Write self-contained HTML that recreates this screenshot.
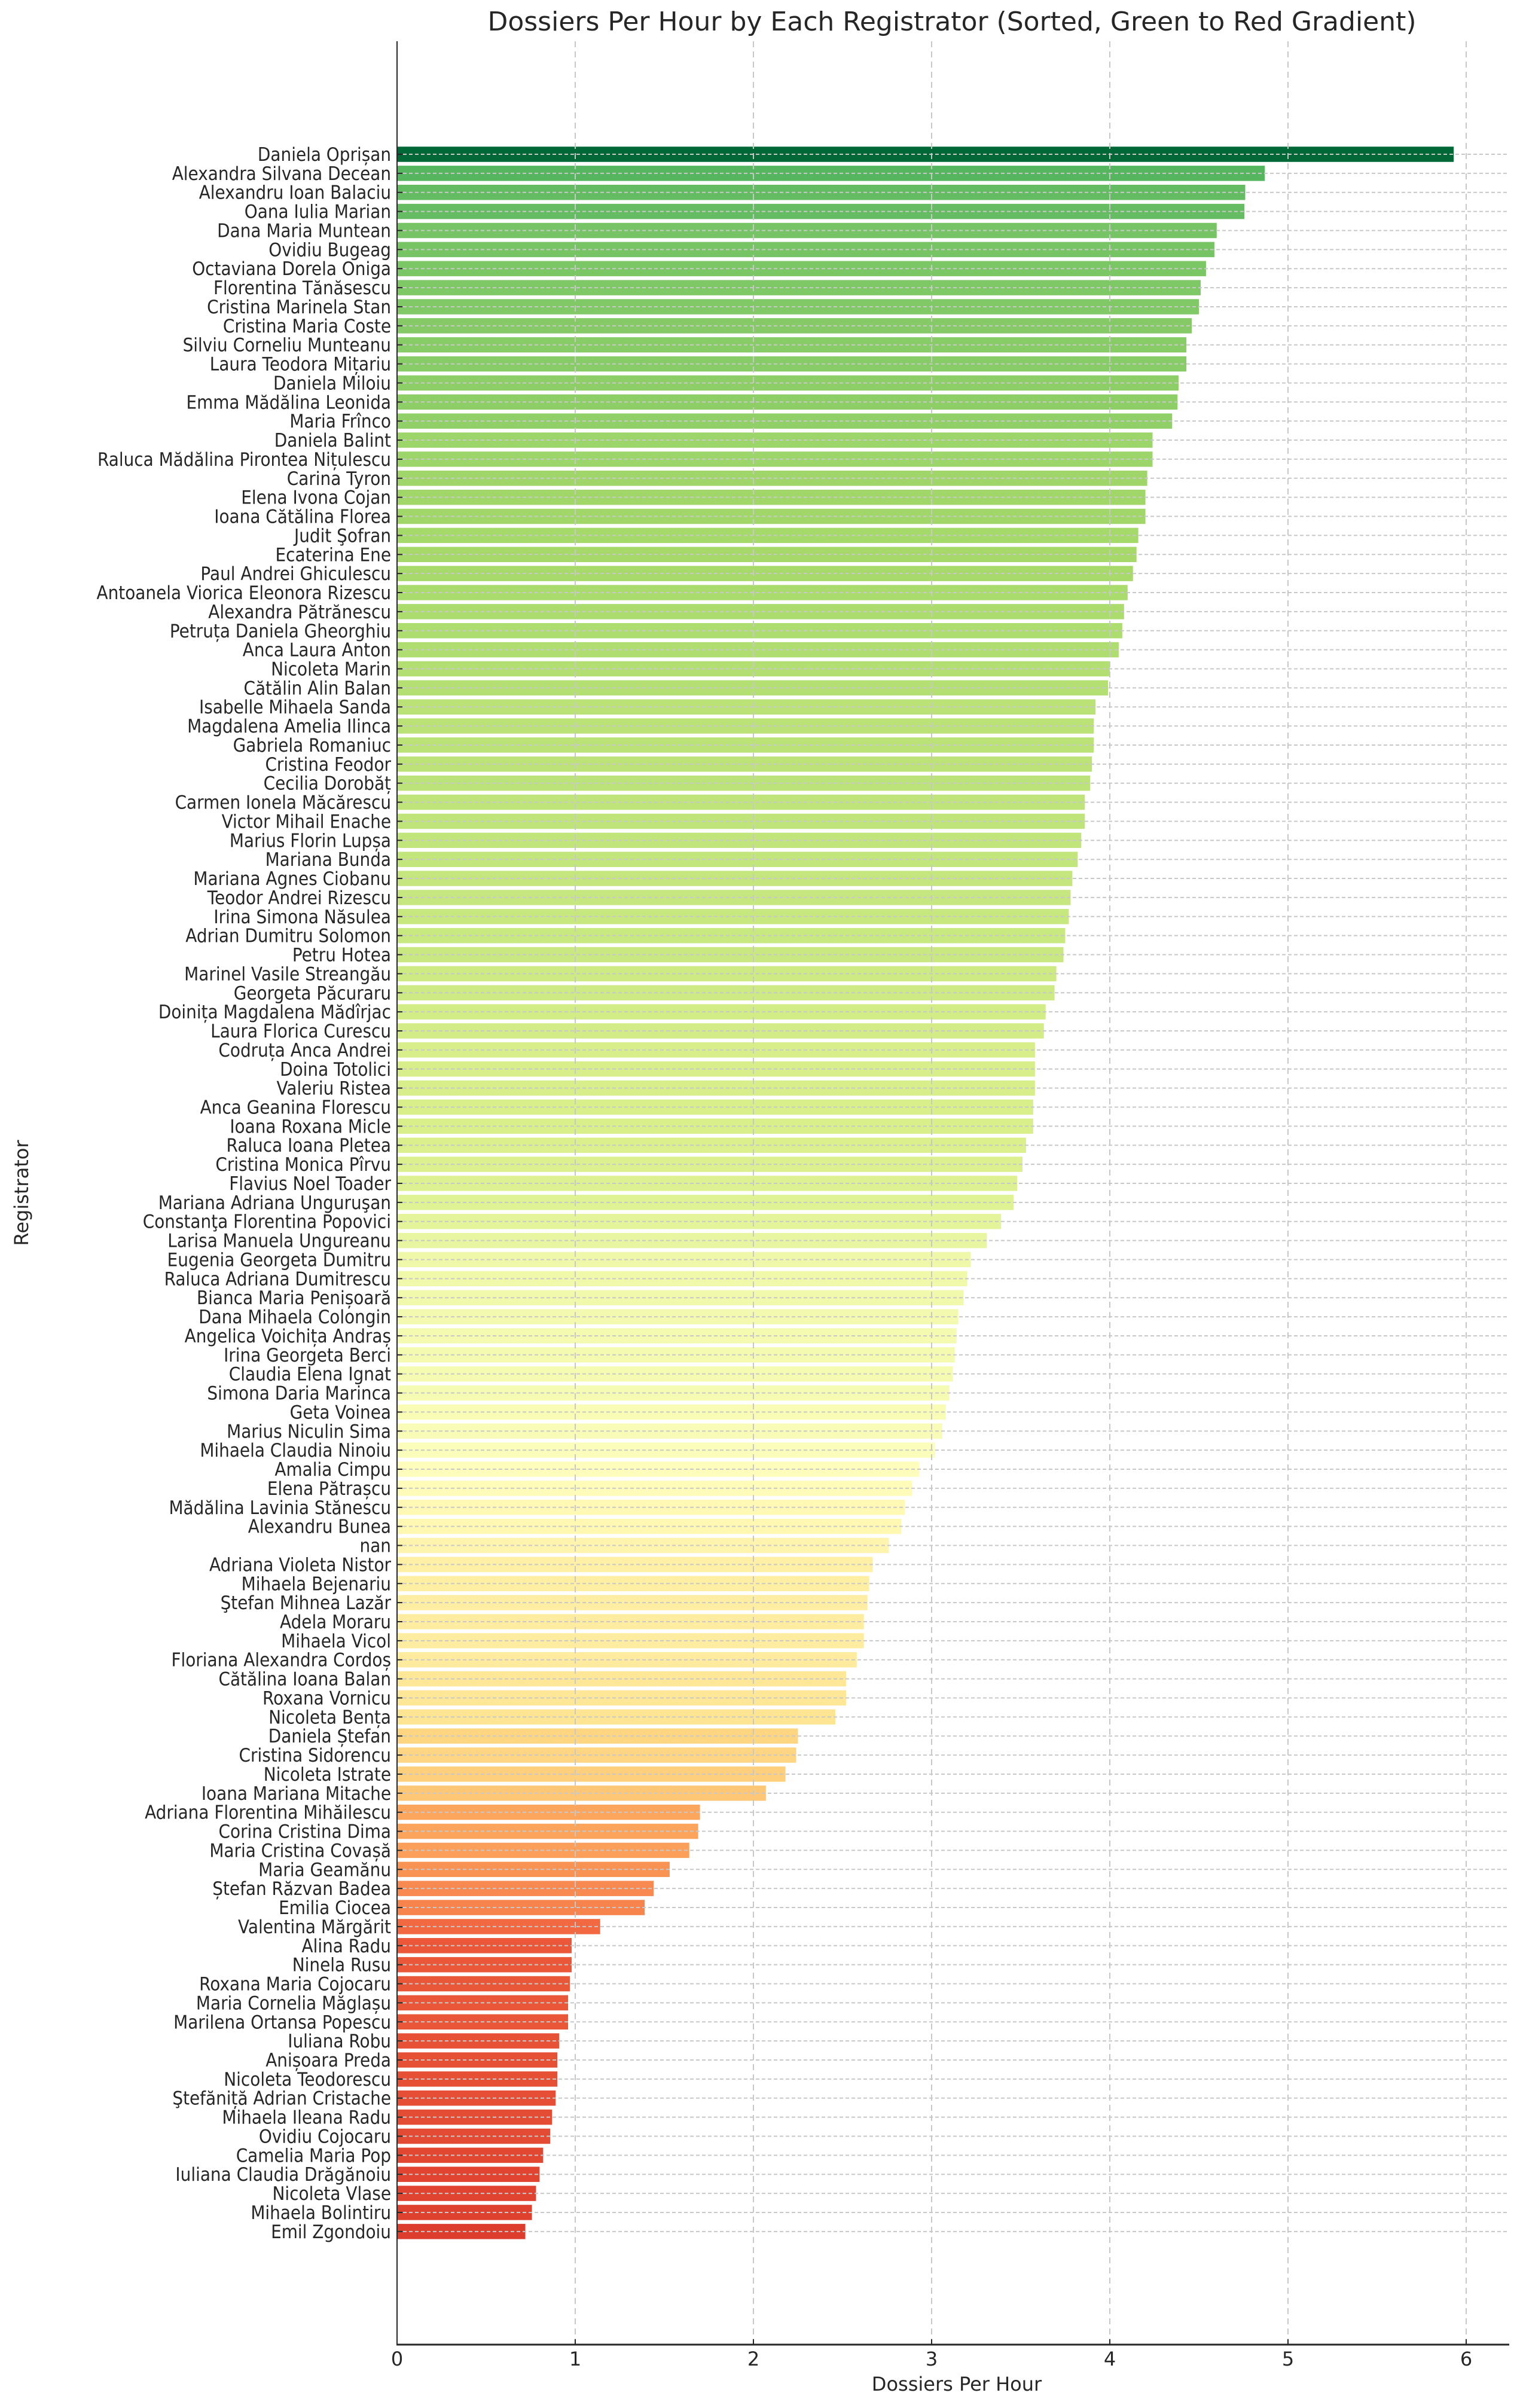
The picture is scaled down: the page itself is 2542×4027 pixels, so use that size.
<!DOCTYPE html>
<html><head><meta charset="utf-8"><style>
html,body{margin:0;padding:0;background:#fff;}
svg{display:block;}
text{font-family:"DejaVu Sans","Liberation Sans",sans-serif;fill:#262626;}
</style></head><body>
<svg id="s" xmlns="http://www.w3.org/2000/svg" width="2542" height="4027" viewBox="0 0 2542 4027">
<rect width="2542" height="4027" fill="#fff"/>
<g id="bars"></g>
<g id="grid"></g>
<g id="labels"></g>
<line x1="664" y1="69" x2="664" y2="3921" stroke="#262626" stroke-width="2"/>
<line x1="663" y1="3921" x2="2524" y2="3921" stroke="#262626" stroke-width="3"/>
<text x="1592" y="51" text-anchor="middle" font-size="44">Dossiers Per Hour by Each Registrator (Sorted, Green to Red Gradient)</text>
<text x="1600" y="3998" text-anchor="middle" font-size="32">Dossiers Per Hour</text>
<text x="0" y="0" text-anchor="middle" font-size="32" transform="translate(47,1995) rotate(-90)">Registrator</text>
</svg>
<script>
var names=["Daniela Oprișan","Alexandra Silvana Decean","Alexandru Ioan Balaciu","Oana Iulia Marian","Dana Maria Muntean","Ovidiu Bugeag","Octaviana Dorela Oniga","Florentina Tănăsescu","Cristina Marinela Stan","Cristina Maria Coste","Silviu Corneliu Munteanu","Laura Teodora Mițariu","Daniela Miloiu","Emma Mădălina Leonida","Maria Frînco","Daniela Balint","Raluca Mădălina Pirontea Nițulescu","Carina Tyron","Elena Ivona Cojan","Ioana Cătălina Florea","Judit Şofran","Ecaterina Ene","Paul Andrei Ghiculescu","Antoanela Viorica Eleonora Rizescu","Alexandra Pătrănescu","Petruța Daniela Gheorghiu","Anca Laura Anton","Nicoleta Marin","Cătălin Alin Balan","Isabelle Mihaela Sanda","Magdalena Amelia Ilinca","Gabriela Romaniuc","Cristina Feodor","Cecilia Dorobăț","Carmen Ionela Măcărescu","Victor Mihail Enache","Marius Florin Lupșa","Mariana Bunda","Mariana Agnes Ciobanu","Teodor Andrei Rizescu","Irina Simona Năsulea","Adrian Dumitru Solomon","Petru Hotea","Marinel Vasile Streangău","Georgeta Păcuraru","Doinița Magdalena Mădîrjac","Laura Florica Curescu","Codruța Anca Andrei","Doina Totolici","Valeriu Ristea","Anca Geanina Florescu","Ioana Roxana Micle","Raluca Ioana Pletea","Cristina Monica Pîrvu","Flavius Noel Toader","Mariana Adriana Unguruşan","Constanţa Florentina Popovici","Larisa Manuela Ungureanu","Eugenia Georgeta Dumitru","Raluca Adriana Dumitrescu","Bianca Maria Penișoară","Dana Mihaela Colongin","Angelica Voichița Andraș","Irina Georgeta Berci","Claudia Elena Ignat","Simona Daria Marinca","Geta Voinea","Marius Niculin Sima","Mihaela Claudia Ninoiu","Amalia Cimpu","Elena Pătrașcu","Mădălina Lavinia Stănescu","Alexandru Bunea","nan","Adriana Violeta Nistor","Mihaela Bejenariu","Ştefan Mihnea Lazăr","Adela Moraru","Mihaela Vicol","Floriana Alexandra Cordoș","Cătălina Ioana Balan","Roxana Vornicu","Nicoleta Bența","Daniela Ștefan","Cristina Sidorencu","Nicoleta Istrate","Ioana Mariana Mitache","Adriana Florentina Mihăilescu","Corina Cristina Dima","Maria Cristina Covașă","Maria Geamănu","Ștefan Răzvan Badea","Emilia Ciocea","Valentina Mărgărit","Alina Radu","Ninela Rusu","Roxana Maria Cojocaru","Maria Cornelia Măglașu","Marilena Ortansa Popescu","Iuliana Robu","Anișoara Preda","Nicoleta Teodorescu","Ştefăniță Adrian Cristache","Mihaela Ileana Radu","Ovidiu Cojocaru","Camelia Maria Pop","Iuliana Claudia Drăgănoiu","Nicoleta Vlase","Mihaela Bolintiru","Emil Zgondoiu"];
var vals=[5.93,4.87,4.76,4.755,4.60,4.587,4.54,4.51,4.50,4.46,4.43,4.43,4.386,4.38,4.35,4.24,4.24,4.21,4.20,4.20,4.16,4.15,4.13,4.10,4.08,4.07,4.05,4.00,3.99,3.92,3.91,3.91,3.90,3.89,3.86,3.86,3.84,3.82,3.79,3.78,3.77,3.75,3.74,3.70,3.69,3.64,3.63,3.58,3.58,3.58,3.57,3.57,3.53,3.51,3.48,3.46,3.39,3.31,3.22,3.20,3.18,3.15,3.14,3.13,3.12,3.10,3.08,3.06,3.02,2.93,2.89,2.85,2.83,2.76,2.67,2.65,2.64,2.62,2.62,2.58,2.52,2.52,2.46,2.25,2.24,2.18,2.07,1.70,1.69,1.64,1.53,1.44,1.39,1.14,0.98,0.98,0.97,0.96,0.96,0.91,0.90,0.90,0.89,0.87,0.86,0.82,0.80,0.78,0.757,0.72];
var cm=["a50026","d73027","f46d43","fdae61","fee08b","ffffbf","d9ef8b","a6d96a","66bd63","1a9850","006837"];
function col(t){t=Math.max(0,Math.min(1,t));var p=t*10,i=Math.min(9,Math.floor(p)),f=p-i;var a=cm[i],b=cm[i+1],o=[];for(var k=0;k<3;k++){var x=parseInt(a.substr(k*2,2),16),y=parseInt(b.substr(k*2,2),16);o.push(Math.round(x+(y-x)*f));}return "rgb("+o.join(",")+")";}
var NS="http://www.w3.org/2000/svg";
function el(n,at,p,txt){var e=document.createElementNS(NS,n);for(var k in at)e.setAttribute(k,at[k]);if(txt)e.textContent=txt;p.appendChild(e);return e;}
var B=document.getElementById("bars"),G=document.getElementById("grid"),L=document.getElementById("labels");
var x0=664,u=298,y0=258,dy=31.87,mx=5.93;
for(var i=0;i<names.length;i++){
 var yc=y0+i*dy;
 el("rect",{x:x0,y:yc-12.75,width:vals[i]*u,height:25.5,fill:col(vals[i]/mx)},B);
 el("line",{x1:x0,y1:yc,x2:2524,y2:yc,stroke:"#c8c8c8","stroke-width":2,"stroke-dasharray":"6,4"},G);
 el("line",{x1:x0,y1:yc,x2:x0+9,y2:yc,stroke:"#262626","stroke-width":2},L);
 el("text",{x:0,y:0,"text-anchor":"end","font-size":31,transform:"translate(654,"+(yc+11)+") scale(0.9,1)"},L,names[i]);
}
for(var t=0;t<=6;t++){
 var x=x0+t*u;
 if(t>0)el("line",{x1:x,y1:69,x2:x,y2:3921,stroke:"#c8c8c8","stroke-width":2,"stroke-dasharray":"10,7"},G);
 el("line",{x1:x,y1:3912,x2:x,y2:3921,stroke:"#262626","stroke-width":2},L);
 el("text",{x:x,y:3956,"text-anchor":"middle","font-size":32},L,String(t));
}
</script>
</body></html>
